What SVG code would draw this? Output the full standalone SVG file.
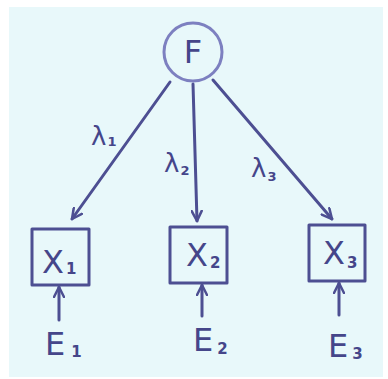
<svg xmlns="http://www.w3.org/2000/svg" width="388" height="379" viewBox="0 0 388 379">
<style>
.ink{fill:none;stroke:#4d4f92;stroke-width:3;stroke-linecap:round;stroke-linejoin:round}
.lbl{font-family:"DejaVu Sans","Liberation Sans",sans-serif;fill:#45468a}
.big{font-size:32px}
.sub{font-size:15px;font-weight:bold}
.lam{font-size:26px}
.lsub{font-size:13px;font-weight:bold}
</style>
<defs>
<marker id="arr" viewBox="0 0 12 12" refX="11" refY="6" markerWidth="12" markerHeight="12" markerUnits="userSpaceOnUse" orient="auto">
<path d="M1,1 L11,6 L1,11" fill="none" stroke="#4d4f92" stroke-width="2.5" stroke-linecap="round" stroke-linejoin="round"/>
</marker>
</defs>
<rect x="0" y="0" width="388" height="379" fill="#ffffff"/>
<rect x="9" y="7" width="374" height="370" fill="#e8f8fa"/>
<g id="connectors">
<line class="ink" x1="170" y1="82" x2="72" y2="219" marker-end="url(#arr)"/>
<line class="ink" x1="193" y1="84" x2="197" y2="221" marker-end="url(#arr)"/>
<line class="ink" x1="213" y1="80" x2="332" y2="219" marker-end="url(#arr)"/>
<line class="ink" x1="59" y1="320" x2="59" y2="287" marker-end="url(#arr)"/>
<line class="ink" x1="202" y1="316" x2="202" y2="285" marker-end="url(#arr)"/>
<line class="ink" x1="339" y1="315" x2="339" y2="283" marker-end="url(#arr)"/>
</g>
<g id="lambda1"><text class="lbl lam" x="91" y="145">λ<tspan class="lsub" dx="1" dy="1">1</tspan></text></g>
<g id="lambda2"><text class="lbl lam" x="164" y="172">λ<tspan class="lsub" dx="1" dy="3">2</tspan></text></g>
<g id="lambda3"><text class="lbl lam" x="251" y="177">λ<tspan class="lsub" dx="1" dy="4">3</tspan></text></g>
<g id="F">
<circle cx="193" cy="52" r="29" fill="none" stroke="#7d80c0" stroke-width="3"/>
<text class="lbl big" x="193" y="63" text-anchor="middle">F</text>
</g>
<g id="X1">
<rect class="ink" x="32" y="229" width="57" height="56"/>
<text class="lbl big" x="42" y="273">X<tspan class="sub" dx="2" dy="1">1</tspan></text>
</g>
<g id="X2">
<rect class="ink" x="170" y="227" width="57" height="56"/>
<text class="lbl big" x="186" y="266">X<tspan class="sub" dx="2" dy="2">2</tspan></text>
</g>
<g id="X3">
<rect class="ink" x="309" y="225" width="56" height="56"/>
<text class="lbl big" x="323" y="264">X<tspan class="sub" dx="2" dy="4">3</tspan></text>
</g>
<g id="E1"><text class="lbl big" x="45" y="355">E<tspan class="sub" dx="6" dy="2">1</tspan></text></g>
<g id="E2"><text class="lbl big" x="193" y="351">E<tspan class="sub" dx="4" dy="3">2</tspan></text></g>
<g id="E3"><text class="lbl big" x="328" y="357">E<tspan class="sub" dx="4" dy="2">3</tspan></text></g>
</svg>
